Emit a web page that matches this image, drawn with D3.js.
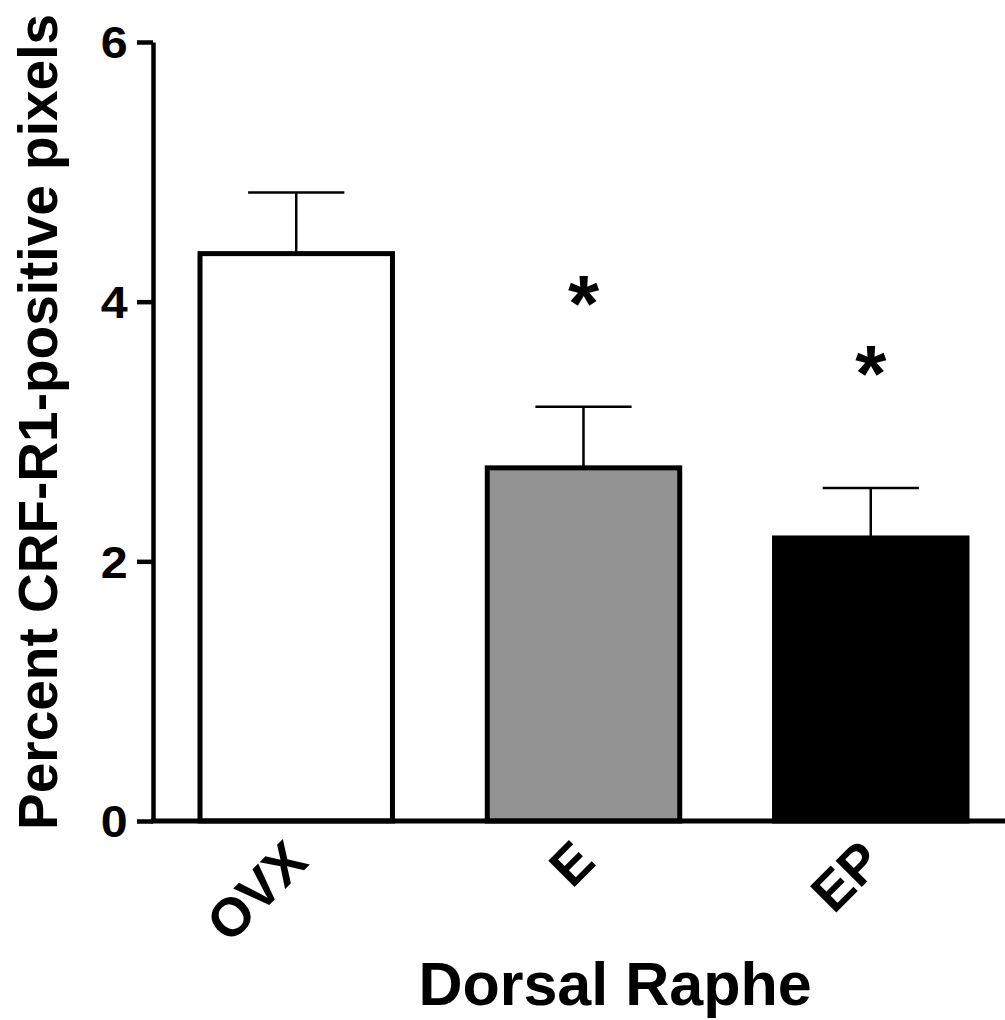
<!DOCTYPE html>
<html>
<head>
<meta charset="utf-8">
<script src="https://cdn.jsdelivr.net/npm/d3@7"></script>
<style>
  body { margin: 0; background: #fff; }
  text { font-family: "Liberation Sans", Arial, sans-serif; font-weight: bold; }
</style>
</head>
<body>
<script>
// data
const groups = ['OVX', 'E', 'EP'];
const means = [4.37, 2.72, 2.18];
const sems = [0.47, 0.47, 0.385];
const fills = ['#ffffff', '#939393', '#000000'];
const stars = [null, 4.09, 3.55];   // where the * sits (y value), null = none
const yTicks = [0, 2, 4, 6];

const svg = d3.select('body').append('svg')
  .attr('width', 1005).attr('height', 1020);

const y = d3.scaleLinear().domain([0, 6]).range([821, 42]);
const x = d3.scaleBand().domain(groups).range([200, 967]).paddingInner(0.33);
const axisX = 153;

// bars
svg.selectAll('rect.bar').data(groups).enter().append('rect')
  .attr('class', 'bar')
  .attr('x', d => x(d))
  .attr('y', (d, i) => y(means[i]))
  .attr('width', x.bandwidth())
  .attr('height', (d, i) => y(0) - y(means[i]))
  .style('fill', (d, i) => fills[i])
  .style('stroke', '#000').style('stroke-width', 5);

// error bars (upper only)
const err = svg.append('g').style('stroke', '#000').style('stroke-width', 2.5);
groups.forEach((g, i) => {
  const cx = x(g) + x.bandwidth() / 2;
  err.append('line').attr('x1', cx).attr('x2', cx)
    .attr('y1', y(means[i])).attr('y2', y(means[i] + sems[i]));
  err.append('line').attr('x1', cx - x.bandwidth() / 4).attr('x2', cx + x.bandwidth() / 4)
    .attr('y1', y(means[i] + sems[i])).attr('y2', y(means[i] + sems[i]));
});

// significance stars
groups.forEach((g, i) => {
  if (stars[i] == null) return;
  svg.append('text')
    .attr('x', x(g) + x.bandwidth() / 2)
    .attr('y', y(stars[i]) + 41)
    .attr('text-anchor', 'middle')
    .style('font-size', '80px')
    .text('*');
});

// y axis
const yAxis = svg.append('g').attr('transform', `translate(${axisX},0)`)
  .call(d3.axisLeft(y).tickValues(yTicks).tickFormat(d3.format('d'))
    .tickSize(16).tickSizeOuter(0).tickPadding(7));
yAxis.select('.domain').style('stroke-width', 4.5);
yAxis.selectAll('.tick line').style('stroke-width', 4.5);
yAxis.selectAll('.tick text').style('font-size', '44px').attr('dy', '0.36em')
  .attr('transform', 'scale(1.1,1)');

// x axis
svg.append('line').attr('x1', axisX - 2).attr('x2', 1005)
  .attr('y1', y(0)).attr('y2', y(0))
  .style('stroke', '#000').style('stroke-width', 5);

svg.selectAll('text.xlab').data(groups).enter().append('text')
  .attr('class', 'xlab')
  .attr('transform', d => `translate(${x(d) + x.bandwidth() / 2 + 14},${y(0) + 43}) rotate(-45)`)
  .attr('text-anchor', 'end')
  .style('font-size', '54px')
  .text(d => d);

// titles
svg.append('text').attr('x', 615).attr('y', 1005)
  .attr('text-anchor', 'middle').style('font-size', '61px')
  .text('Dorsal Raphe');

svg.append('text')
  .attr('transform', 'translate(57,422) rotate(-90)')
  .attr('text-anchor', 'middle').style('font-size', '55px')
  .text('Percent CRF-R1-positive pixels');
</script>
</body>
</html>
